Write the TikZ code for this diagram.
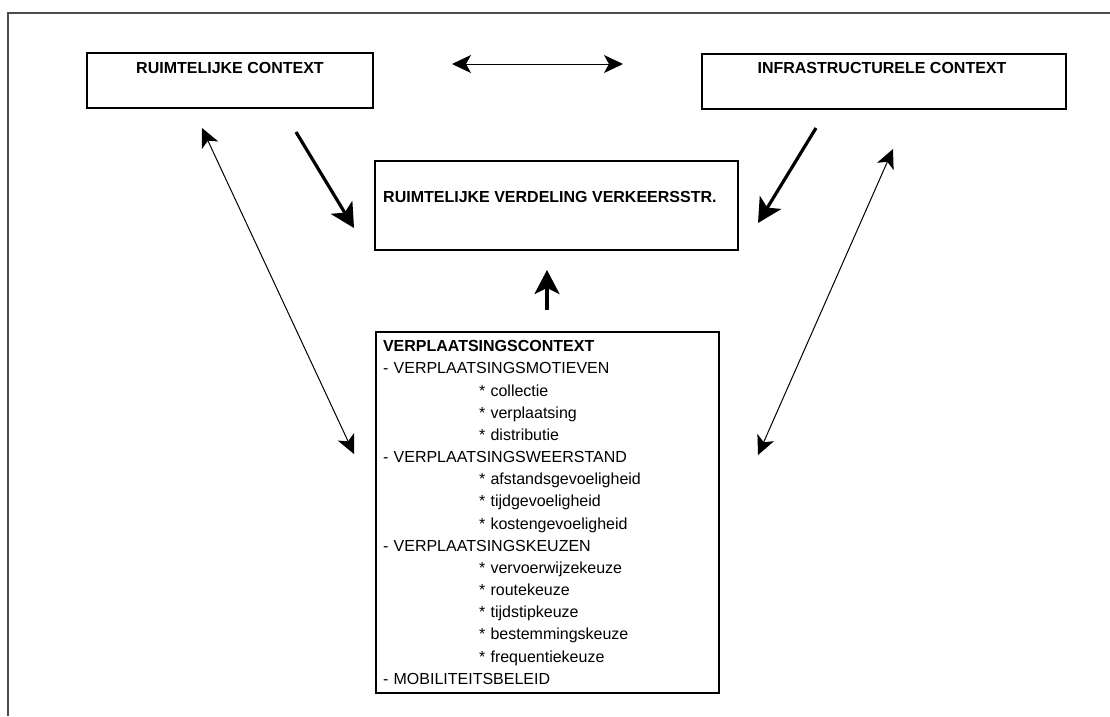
\documentclass[tikz,border=0pt]{standalone}
\usepackage{fontspec}
\setmainfont{Liberation Sans}
\usetikzlibrary{arrows.meta}
\newcommand{\vcitem}[1]{\hspace*{96pt}* #1}

\begin{document}
\begin{tikzpicture}[x=1pt, y=-1pt,
	every node/.style={font=\fontsize{16}{22.16}\selectfont},
	box/.style={draw, line width=2pt, inner sep=0pt},
	title/.style={font=\fontsize{16}{22.16}\selectfont\bfseries, inner sep=0pt},
	bigarrow/.style={line width=3.2pt, -{Stealth[length=24pt, width=25pt, inset=6pt]}},
	thinarrow/.style={line width=1pt, {Stealth[length=19pt, width=18pt, inset=5pt]}-{Stealth[length=19pt, width=18pt, inset=5pt]}}]
		\useasboundingbox (0,0) rectangle (1110,716);
		%\draw[help lines, step=50] (0,0) grid (1110,716);
		\draw[line width=1.2pt, black!70] (8,716) -- (8,13) -- (1110,13);
		
		\node[box, minimum width=286, minimum height=55] (rc) at (230,80.5) {};
		\node[title, anchor=base] (rctext) at (230,73.8) {RUIMTELIJKE CONTEXT};
		
		\node[box, minimum width=364, minimum height=55] (ic) at (884,81.5) {};
		\node[title, anchor=base] (ictext) at (882,73.5) {INFRASTRUCTURELE CONTEXT};
		
		\node[box, minimum width=363, minimum height=89] (rv) at (556.5,205.5) {};
		\node[title, anchor=base west] (rvtext) at (383,202.7) {RUIMTELIJKE VERDELING VERKEERSSTR.};
		
		\node[box, anchor=north west, minimum width=343, minimum height=361, text width=329pt, inner xsep=7pt, align=left] (vc) at (375,331) {\textbf{VERPLAATSINGSCONTEXT}\\
			- VERPLAATSINGSMOTIEVEN\\
			\vcitem{collectie}\\
			\vcitem{verplaatsing}\\
			\vcitem{distributie}\\
			- VERPLAATSINGSWEERSTAND\\
			\vcitem{afstandsgevoeligheid}\\
			\vcitem{tijdgevoeligheid}\\
			\vcitem{kostengevoeligheid}\\
			- VERPLAATSINGSKEUZEN\\
			\vcitem{vervoerwijzekeuze}\\
			\vcitem{routekeuze}\\
			\vcitem{tijdstipkeuze}\\
			\vcitem{bestemmingskeuze}\\
			\vcitem{frequentiekeuze}\\
			- MOBILITEITSBELEID};
		
		% loose ends of the arrows
		\coordinate (rcleft) at (452,64);
		\coordinate (icright) at (623,64);
		\coordinate (rcout) at (296,132);
		\coordinate (rvin1) at (354,228);
		\coordinate (icout) at (816,128);
		\coordinate (rvin2) at (758,223);
		\coordinate (vcout) at (547,310);
		\coordinate (rvin3) at (547,270);
		\coordinate (rcdown) at (202,128);
		\coordinate (vcleft) at (354,454);
		\coordinate (icdown) at (893,149);
		\coordinate (vcright) at (758,455);
		
		\draw[thinarrow] (rcleft) -- (icright);
		\draw[bigarrow] (rcout) -- (rvin1);
		\draw[bigarrow] (icout) -- (rvin2);
		\draw[bigarrow] (vcout) -- (rvin3);
		\draw[thinarrow] (rcdown) -- (vcleft);
		\draw[thinarrow] (icdown) -- (vcright);
\end{tikzpicture}
\end{document}
